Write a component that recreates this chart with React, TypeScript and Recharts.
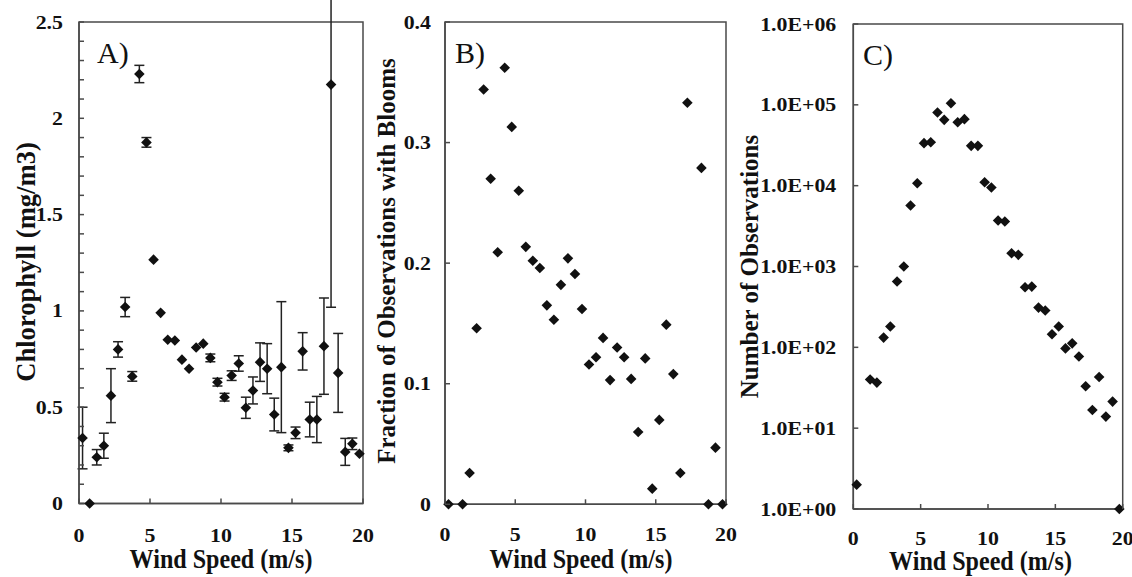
import React from 'react';
import { ScatterChart, Scatter, XAxis, YAxis, ErrorBar, ReferenceArea } from 'recharts';

// ---------- data ----------
const windSpeed = [
  0.25, 0.75, 1.25, 1.75, 2.25, 2.75, 3.25, 3.75, 4.25, 4.75,
  5.25, 5.75, 6.25, 6.75, 7.25, 7.75, 8.25, 8.75, 9.25, 9.75,
  10.25, 10.75, 11.25, 11.75, 12.25, 12.75, 13.25, 13.75, 14.25, 14.75,
  15.25, 15.75, 16.25, 16.75, 17.25, 17.75, 18.25, 18.75, 19.25, 19.75,
];

// Panel A: chlorophyll (mg/m3) and its error
const chlorophyll = [
  0.34, 0.0, 0.24, 0.30, 0.56, 0.80, 1.02, 0.66, 2.23, 1.875,
  1.266, 0.99, 0.85, 0.846, 0.747, 0.70, 0.81, 0.83, 0.756, 0.63,
  0.552, 0.664, 0.727, 0.497, 0.587, 0.734, 0.70, 0.462, 0.708, 0.289,
  0.367, 0.79, 0.436, 0.436, 0.817, 2.175, 0.678, 0.268, 0.31, 0.258,
];
const chlError = [
  0.16, 0, 0.04, 0.065, 0.14, 0.04, 0.05, 0.025, 0.045, 0.025,
  0, 0, 0, 0, 0, 0, 0, 0, 0.02, 0.02,
  0.02, 0.025, 0.04, 0.055, 0.07, 0.1, 0.13, 0.085, 0.34, 0.015,
  0.03, 0.097, 0.09, 0.12, 0.25, 1.156, 0.205, 0.07, 0.03, 0,
];

// Panel B: fraction of observations with blooms
const bloomFraction: (number | null)[] = [
  0, null, 0, 0.026, 0.146, 0.344, 0.270, 0.209, 0.362, 0.313,
  0.260, 0.2135, 0.202, 0.196, 0.165, 0.153, 0.182, 0.204, 0.191, 0.162,
  0.116, 0.122, 0.138, 0.103, 0.130, 0.122, 0.104, 0.060, 0.121, 0.013,
  0.070, 0.149, 0.108, 0.026, 0.333, null, 0.279, 0, 0.047, 0,
];

// Panel C: number of observations
const obsCount: (number | null)[] = [
  2, null, 40, 36.6, 132, 181, 651, 1000, 5680, 10720,
  33560, 34500, 80400, 65200, 104700, 61000, 66500, 31100, 31100, 11040,
  9480, 3700, 3600, 1460, 1393, 554, 564, 310, 285, 145,
  181, 97, 112, 77, 33, 16.8, 43, 13.9, 21.3, 1,
];

// ticks
const windTicks = [0, 5, 10, 15, 20];
const chlTicks = [0, 0.1, 0.2, 0.3, 0.4, 0.5, 0.6, 0.7, 0.8, 0.9, 1, 1.1, 1.2, 1.3, 1.4, 1.5, 1.6, 1.7, 1.8, 1.9, 2, 2.1, 2.2, 2.3, 2.4, 2.5];
const chlLabels = ['0', '0.5', '1', '1.5', '2', '2.5'];
const bloomTicks = [0, 0.1, 0.2, 0.3, 0.4];
const obsTicks = [1, 10, 100, 1000, 10000, 100000, 1000000];
const obsLabels = ['1.0E+00', '1.0E+01', '1.0E+02', '1.0E+03', '1.0E+04', '1.0E+05', '1.0E+06'];

const chlData = windSpeed.map((x, i) => ({ x, y: chlorophyll[i], err: chlError[i] }));
const bloomData = windSpeed
  .map((x, i) => ({ x, y: bloomFraction[i] }))
  .filter((d) => d.y !== null);
const obsData = windSpeed
  .map((x, i) => ({ x, y: obsCount[i] }))
  .filter((d) => d.y !== null);

// ---------- styling ----------
const FONT = "'Liberation Serif', 'Times New Roman', serif";
const INK = '#111';
const FRAME = '#4a4a4a';
const TICK_FS = 19;
const TICK_SX = 1.15;

const Diamond = (props: any) => {
  const { cx, cy } = props;
  if (cx == null || cy == null) return null;
  const r = 5.3;
  return <path d={`M${cx},${cy - r}L${cx + r},${cy}L${cx},${cy + r}L${cx - r},${cy}Z`} fill={INK} />;
};

const fmtChl = (v: number) => {
  const idx = Math.round(v * 2);
  return Math.abs(v * 2 - idx) < 1e-6 ? chlLabels[idx] : '';
};
const fmtBloom = (v: number) => (v === 0 ? '0' : String(Number(v.toFixed(1))));
const fmtObs = (v: number) => obsLabels[Math.round(Math.log10(v))];

const YTick = (props: any) => {
  const { x, y, payload, gap, fmt } = props;
  const label = fmt(payload.value);
  return (
    <g>
      <line x1={x} y1={y} x2={x + 5} y2={y} stroke={FRAME} strokeWidth={1.5} />
      {label !== '' && (
        <text
          transform={`translate(${x - gap},${y + 6.5}) scale(${TICK_SX},1)`}
          textAnchor="end"
          fontFamily={FONT}
          fontWeight={700}
          fontSize={TICK_FS}
          fill={INK}
        >
          {label}
        </text>
      )}
    </g>
  );
};

const XTick = (props: any) => {
  const { x, y, payload, down } = props;
  return (
    <g>
      <line x1={x} y1={y} x2={x} y2={y - 5} stroke={FRAME} strokeWidth={1.5} />
      <text
        transform={`translate(${x},${y + down}) scale(${TICK_SX},1)`}
        textAnchor="middle"
        fontFamily={FONT}
        fontWeight={700}
        fontSize={TICK_FS}
        fill={INK}
      >
        {String(payload.value)}
      </text>
    </g>
  );
};

const TitleX = (p: any) => (
  <text
    transform={`translate(${p.tx},${p.ty}) scale(${p.sx},1)`}
    textAnchor="middle"
    fontFamily={FONT}
    fontWeight={700}
    fontSize={p.fs}
    fill={INK}
  >
    {p.txt}
  </text>
);

const TitleY = (p: any) => (
  <text
    transform={`translate(${p.tx},${p.ty}) rotate(-90) scale(${p.sx},1)`}
    textAnchor="middle"
    fontFamily={FONT}
    fontWeight={700}
    fontSize={p.fs}
    fill={INK}
  >
    {p.txt}
  </text>
);

const PanelLetter = (p: any) => (
  <text x={p.tx} y={p.ty} fontFamily={FONT} fontSize={30} fill={INK}>
    {p.txt}
  </text>
);

const X_TITLE = 'Wind Speed (m/s)';
const X_TITLE_FS = 28;
const X_TITLE_SX = 0.86;

export default function App() {
  return (
    <div style={{ position: 'absolute', left: 0, top: 0, width: 1132, height: 577, background: '#fff', overflow: 'hidden' }}>
      <style>{`.noclip g { clip-path: none !important; }`}</style>

      {/* Panel A */}
      <div className="noclip" style={{ position: 'absolute', left: 0, top: 0 }}>
        <ScatterChart width={380} height={577} margin={{ top: 22, right: 17, left: 0, bottom: 0 }}>
          <XAxis
            type="number"
            dataKey="x"
            domain={[0, 20]}
            ticks={windTicks}
            interval={0}
            allowDataOverflow
            height={73.5}
            tickLine={false}
            tickSize={0}
            tickMargin={0}
            axisLine={{ stroke: FRAME, strokeWidth: 1.5 }}
            tick={(p: any) => <XTick {...p} down={38.5} />}
            label={<TitleX txt={X_TITLE} tx={221} ty={568} fs={X_TITLE_FS} sx={X_TITLE_SX} />}
          />
          <YAxis
            type="number"
            dataKey="y"
            domain={[0, 2.5]}
            ticks={chlTicks}
            interval={0}
            allowDataOverflow
            width={79}
            tickLine={false}
            tickSize={0}
            tickMargin={0}
            axisLine={{ stroke: FRAME, strokeWidth: 1.5 }}
            tick={(p: any) => <YTick {...p} gap={16} fmt={fmtChl} />}
            label={<TitleY txt="Chlorophyll (mg/m3)" tx={35} ty={262} fs={28} sx={0.95} />}
          />
          <ReferenceArea
            x1={0}
            x2={20}
            y1={0}
            y2={2.5}
            fill="none"
            stroke={FRAME}
            strokeWidth={1.5}
            label={<PanelLetter txt="A)" tx={97} ty={63} />}
          />
          <Scatter data={chlData} dataKey="y" shape={Diamond} isAnimationActive={false}>
            <ErrorBar dataKey="err" direction="y" width={5} stroke="#222" strokeWidth={1.5} isAnimationActive={false} />
          </Scatter>
        </ScatterChart>
      </div>

      {/* Panel B */}
      <div className="noclip" style={{ position: 'absolute', left: 370, top: 0 }}>
        <ScatterChart width={370} height={577} margin={{ top: 22, right: 14, left: 0, bottom: 0 }}>
          <XAxis
            type="number"
            dataKey="x"
            domain={[0, 20]}
            ticks={windTicks}
            interval={0}
            allowDataOverflow
            height={72.7}
            tickLine={false}
            tickSize={0}
            tickMargin={0}
            axisLine={{ stroke: FRAME, strokeWidth: 1.5 }}
            tick={(p: any) => <XTick {...p} down={37} />}
            label={<TitleX txt={X_TITLE} tx={211} ty={568} fs={X_TITLE_FS} sx={X_TITLE_SX} />}
          />
          <YAxis
            type="number"
            dataKey="y"
            domain={[0, 0.4]}
            ticks={bloomTicks}
            interval={0}
            allowDataOverflow
            width={75}
            tickLine={false}
            tickSize={0}
            tickMargin={0}
            axisLine={{ stroke: FRAME, strokeWidth: 1.5 }}
            tick={(p: any) => <YTick {...p} gap={14} fmt={fmtBloom} />}
            label={<TitleY txt="Fraction of Observations with Blooms" tx={25} ty={261} fs={25} sx={1} />}
          />
          <ReferenceArea
            x1={0}
            x2={20}
            y1={0}
            y2={0.4}
            fill="none"
            stroke={FRAME}
            strokeWidth={1.5}
            label={<PanelLetter txt="B)" tx={85} ty={63} />}
          />
          <Scatter data={bloomData} dataKey="y" shape={Diamond} isAnimationActive={false} />
        </ScatterChart>
      </div>

      {/* Panel C */}
      <div className="noclip" style={{ position: 'absolute', left: 720, top: 0 }}>
        <ScatterChart width={412} height={577} margin={{ top: 24, right: 9.3, left: 0, bottom: 0 }}>
          <XAxis
            type="number"
            dataKey="x"
            domain={[0, 20]}
            ticks={windTicks}
            interval={0}
            allowDataOverflow
            height={68}
            tickLine={false}
            tickSize={0}
            tickMargin={0}
            axisLine={{ stroke: FRAME, strokeWidth: 1.5 }}
            tick={(p: any) => <XTick {...p} down={36} />}
            label={<TitleX txt={X_TITLE} tx={260.5} ty={570} fs={X_TITLE_FS} sx={X_TITLE_SX} />}
          />
          <YAxis
            type="number"
            dataKey="y"
            scale="log"
            domain={[1, 1000000]}
            ticks={obsTicks}
            interval={0}
            allowDataOverflow
            width={133.3}
            tickLine={false}
            tickSize={0}
            tickMargin={0}
            axisLine={{ stroke: FRAME, strokeWidth: 1.5 }}
            tick={(p: any) => <YTick {...p} gap={17} fmt={fmtObs} />}
            label={<TitleY txt="Number of Observations" tx={38} ty={266.5} fs={25} sx={1} />}
          />
          <ReferenceArea
            x1={0}
            x2={20}
            y1={1}
            y2={1000000}
            fill="none"
            stroke={FRAME}
            strokeWidth={1.5}
            label={<PanelLetter txt="C)" tx={143} ty={65} />}
          />
          <Scatter data={obsData} dataKey="y" shape={Diamond} isAnimationActive={false} />
        </ScatterChart>
      </div>
    </div>
  );
}
